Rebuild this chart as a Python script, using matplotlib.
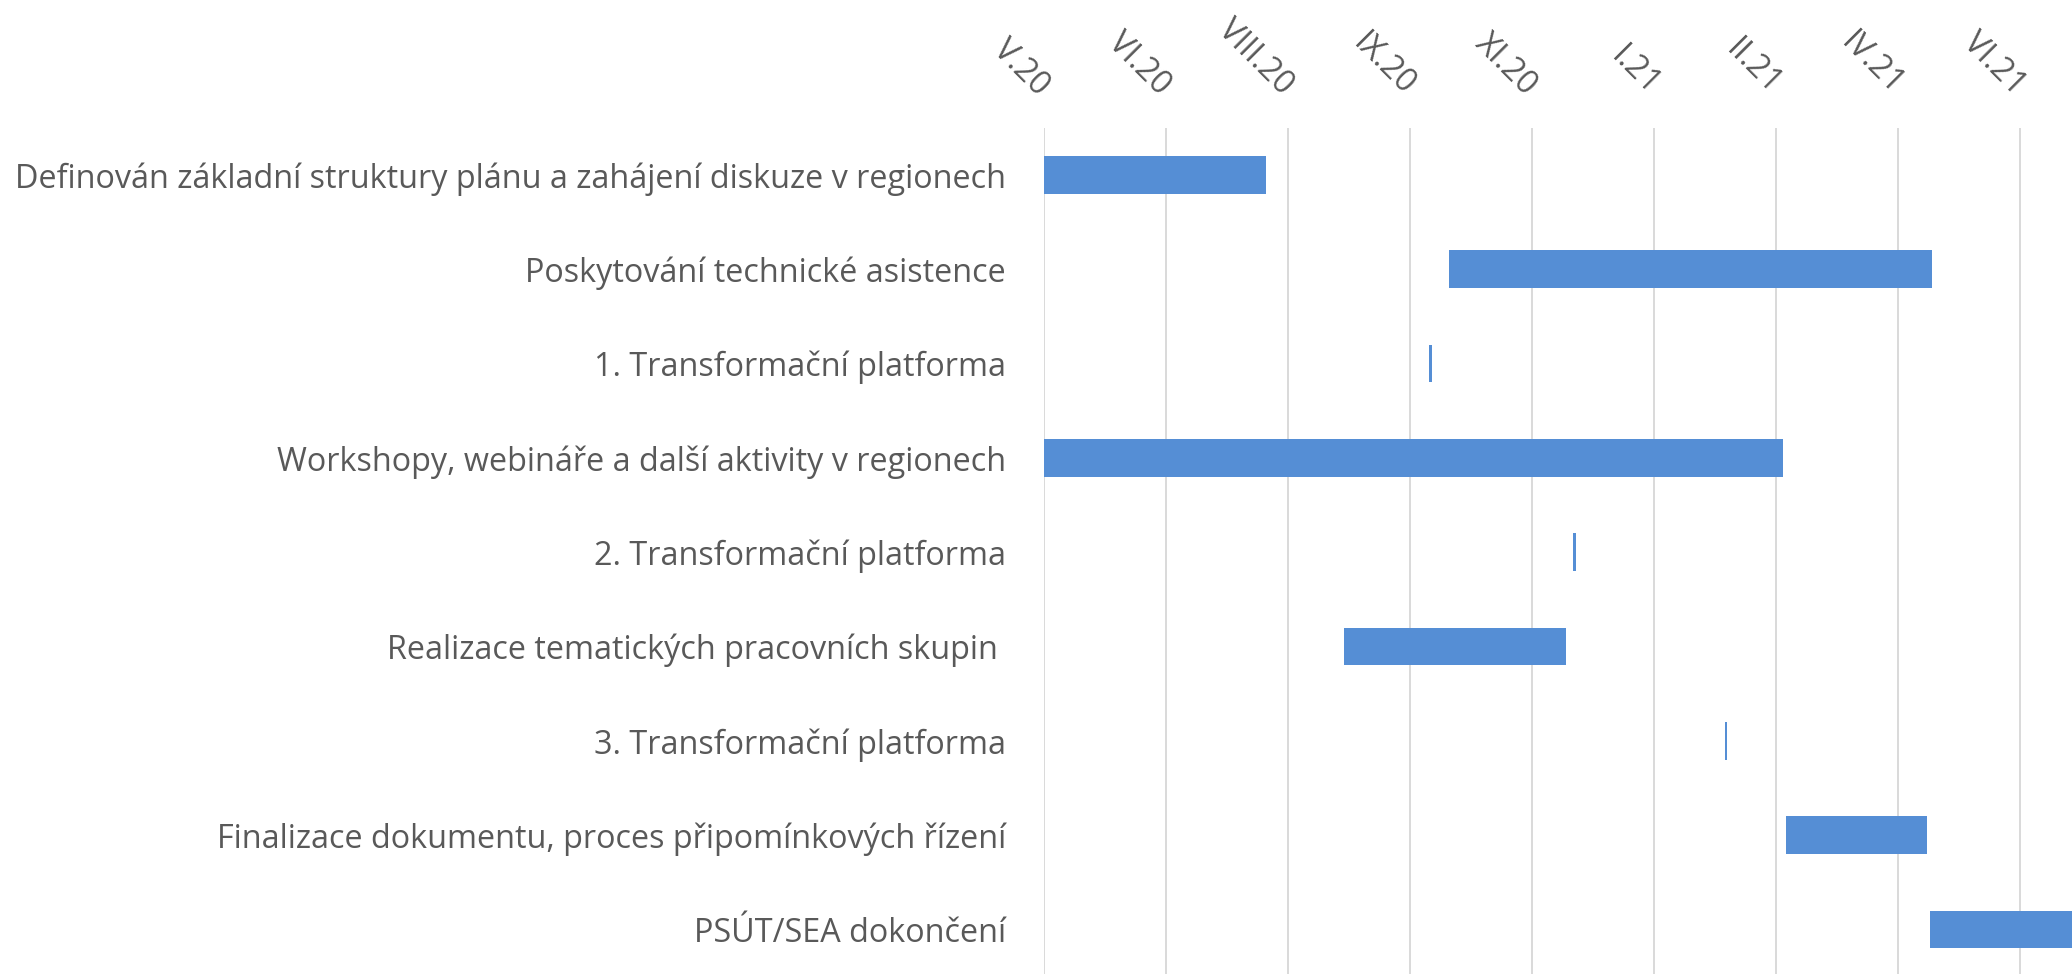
import matplotlib.pyplot as plt
import numpy as np
import pandas as pd

tasks = [
    'Definován základní struktury plánu a zahájení diskuze v regionech',
    'Poskytování technické asistence',
    '1. Transformační platforma',
    'Workshopy, webináře a další aktivity v regionech',
    '2. Transformační platforma',
    'Realizace tematických pracovních skupin ',
    '3. Transformační platforma',
    'Finalizace dokumentu, proces připomínkových řízení',
    'PSÚT/SEA dokončení',
]
start_dates = ['2020-05-01', '2020-10-14', '2020-10-06', '2020-05-01', '2020-12-04',
               '2020-09-01', '2021-02-04', '2021-03-01', '2021-04-29']
end_dates = ['2020-07-31', '2021-04-30', '2020-10-07', '2021-02-28', '2020-12-05',
             '2020-12-01', '2021-02-05', '2021-04-28', '2021-07-31']
tick_labels = ['V.20', 'VI.20', 'VIII.20', 'IX.20', 'XI.20', 'I.21', 'II.21', 'IV.21', 'VI.21']

origin = pd.Timestamp('2020-05-01')
start = (pd.to_datetime(start_dates) - origin).days.values
end = (pd.to_datetime(end_dates) - origin).days.values
ticks = np.arange(len(tick_labels)) * 50

plt.rcParams['font.family'] = ['Open Sans', 'DejaVu Sans']
text_color = '#595959'

fig = plt.figure(figsize=(20.72, 9.74), dpi=100)
ax = fig.add_axes([0.50362, -0.0027, 0.49638, 0.8715])

y = np.arange(len(tasks))
ax.barh(y, end - start, left=start, height=0.4, color='#558ED5')

ax.set_ylim(len(tasks) - 0.5, -0.5)
ax.set_xlim(0, 421.2)
ax.set_yticks(y)
ax.set_yticklabels(tasks, fontsize=23.3, color=text_color)

ax.xaxis.tick_top()
ax.set_xticks(ticks)
ax.set_xticklabels(tick_labels, fontsize=23.3, color=text_color)
plt.setp(ax.get_xticklabels(), rotation=-45, ha='right', va='center', rotation_mode='anchor')

ax.tick_params(axis='y', length=0, pad=27)
ax.tick_params(axis='x', length=0, pad=27)
ax.grid(axis='x', color='#D9D9D9', linewidth=1.4)
ax.set_axisbelow(True)
for s in ax.spines.values():
    s.set_visible(False)

plt.savefig('out.png', dpi=100)
